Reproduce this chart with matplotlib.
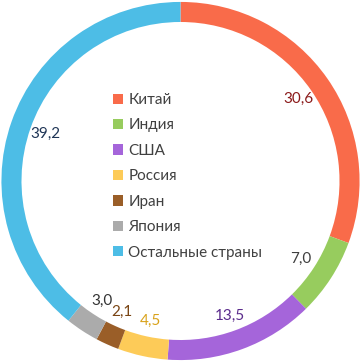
import numpy as np
import matplotlib.pyplot as plt

plt.rcParams['font.family'] = ['Lato', 'DejaVu Sans']

# данные
countries = ['Китай', 'Индия', 'США', 'Россия', 'Иран', 'Япония', 'Остальные страны']
shares = [30.6, 7.0, 13.5, 4.5, 2.1, 3.0, 39.2]
labels = ['30,6', '7,0', '13,5', '4,5', '2,1', '3,0', '39,2']
colors = ['#F96B4A', '#97CC5E', '#A565DA', '#FDCB58', '#9A5E28', '#ABABAB', '#4DBDE6']
label_colors = ['#8B1A1A', '#3F3F3F', '#5B2C8C', '#D9A21A', '#7A4514', '#333333', '#1F3556']

fig = plt.figure(figsize=(3.61, 3.62), dpi=100)
ax = fig.add_axes([0, 0, 1, 1])

wedges, _ = ax.pie(shares, colors=colors, startangle=90, counterclock=False,
                   radius=1.0, wedgeprops=dict(width=0.112, edgecolor='none'))

# подписи значений внутри кольца
total = sum(shares)
cum = 0
for v, lab, c in zip(shares, labels, label_colors):
    mid = cum + v / 2
    cum += v
    ang = np.deg2rad(90 - mid / total * 360)
    r = 0.80
    ax.text(r * np.cos(ang), r * np.sin(ang), lab, ha='center', va='center',
            fontsize=11, color=c)

ax.set_xlim(-1.008, 1.008)
ax.set_ylim(-1.008, 1.008)
ax.set_aspect('equal')
ax.axis('off')

fig.legend(wedges, countries, loc='upper left', bbox_to_anchor=(113 / 361, 1 - 93 / 362),
           frameon=False, fontsize=11, handlelength=0.65, handleheight=0.65,
           handletextpad=0.35, labelspacing=0.75, borderpad=0, borderaxespad=0,
           labelcolor='#404040')

plt.savefig('out.png', dpi=100)
